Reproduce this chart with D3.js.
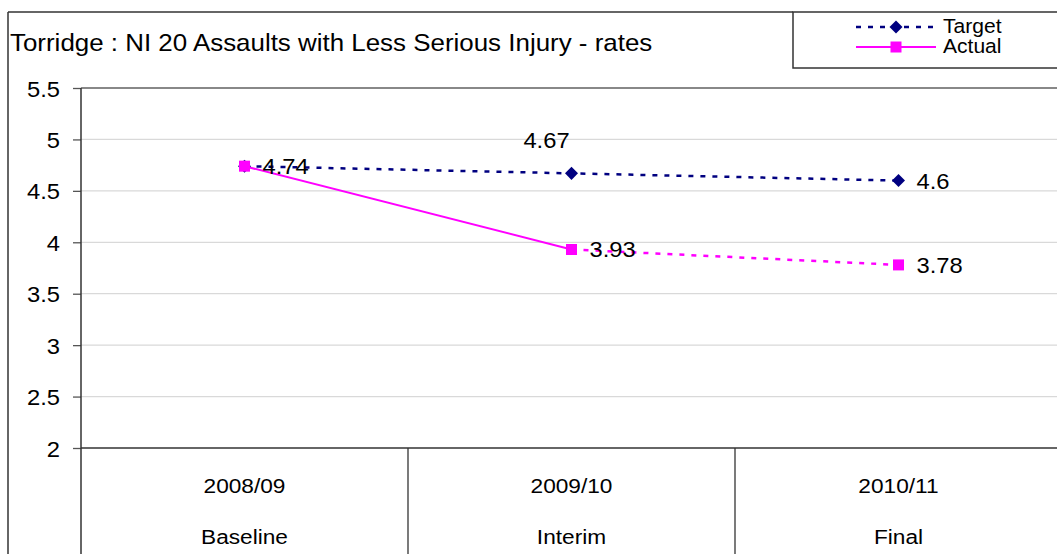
<!DOCTYPE html>
<html><head><meta charset="utf-8">
<script src="https://cdn.jsdelivr.net/npm/d3@7"></script>
<style>body{margin:0;background:#fff}svg{display:block}text{font-family:"Liberation Sans",Arial,sans-serif;fill:#000}</style>
</head><body>
<script>
const categories = ["2008/09","2009/10","2010/11"];
const stages = ["Baseline","Interim","Final"];
const target = [4.74, 4.67, 4.6];
const actual = [4.74, 3.93, 3.78];
const yTicks = [2, 2.5, 3, 3.5, 4, 4.5, 5, 5.5];
const title = "Torridge : NI 20 Assaults with Less Serious Injury - rates";

const W = 1057, H = 554, SX = 1.08;
const svg = d3.select("body").append("svg").attr("width", W).attr("height", H);

const y = d3.scaleLinear().domain([2, 5.5]).range([448, 88]);
const x = d3.scaleBand().domain(categories).range([81, 1062]).padding(0);
const cx = d => x(d) + x.bandwidth() / 2;

function stext(g, tx, ty, str, size, anchor) {
  return g.append("text")
    .attr("transform", `translate(${tx},${ty}) scale(${SX},1)`)
    .attr("text-anchor", anchor || "start")
    .attr("font-size", size)
    .text(str);
}

// Frame
svg.append("line").attr("x1", 8).attr("x2", 793).attr("y1", 12).attr("y2", 12).attr("stroke", "#333").attr("stroke-width", 1.5);
svg.append("line").attr("x1", 8).attr("x2", 8).attr("y1", 12).attr("y2", H).attr("stroke", "#333").attr("stroke-width", 1.5);
stext(svg, 10, 51, title, 24);

// Gridlines
svg.append("g").selectAll("line").data(yTicks.filter(t => t > 2 && t < 5.5)).join("line")
  .attr("x1", 81).attr("x2", W).attr("y1", d => y(d)).attr("y2", d => y(d))
  .attr("stroke", "#d9d9d9").attr("stroke-width", 1.3);
svg.append("line").attr("x1", 81).attr("x2", W).attr("y1", y(5.5)).attr("y2", y(5.5)).attr("stroke", "#888").attr("stroke-width", 2);
svg.append("line").attr("x1", 81).attr("x2", W).attr("y1", y(2)).attr("y2", y(2)).attr("stroke", "#333").attr("stroke-width", 1.5);

// Y axis
const yAxis = d3.axisLeft(y).tickValues(yTicks).tickSize(8).tickPadding(0).tickFormat(d => String(d));
const ya = svg.append("g").attr("transform", "translate(81,0)").call(yAxis);
ya.select(".domain").remove();
ya.selectAll(".tick line").attr("stroke", "#555").attr("stroke-width", 1.3);
ya.selectAll(".tick text").remove();
ya.selectAll(".tick").each(function(d) {
  stext(d3.select(this), -21, 8, String(d), 22, "end");
});
svg.append("line").attr("x1", 81).attr("x2", 81).attr("y1", 88).attr("y2", H).attr("stroke", "#333").attr("stroke-width", 1.5);

// Category dividers and labels
svg.append("g").selectAll("line").data(categories.slice(1)).join("line")
  .attr("x1", d => x(d)).attr("x2", d => x(d)).attr("y1", 448).attr("y2", H)
  .attr("stroke", "#333").attr("stroke-width", 1.3);
categories.forEach((c, i) => {
  stext(svg, cx(c), 493, c, 21, "middle");
  stext(svg, cx(c), 544, stages[i], 21, "middle");
});

// Lines
const line = d3.line().x(d => cx(d.c)).y(d => y(d.v));
const tPts = categories.map((c, i) => ({c, v: target[i]}));
const aPts = categories.map((c, i) => ({c, v: actual[i]}));
svg.append("path").attr("d", line(tPts)).attr("fill", "none").attr("stroke", "#000080").attr("stroke-width", 2.5).attr("stroke-dasharray", "5,7");
svg.append("path").attr("d", line(aPts.slice(0, 2))).attr("fill", "none").attr("stroke", "#FF00FF").attr("stroke-width", 2);
svg.append("path").attr("d", line(aPts.slice(1))).attr("fill", "none").attr("stroke", "#FF00FF").attr("stroke-width", 2.5).attr("stroke-dasharray", "5,7");

const diamondPath = d3.symbol().type(d3.symbolSquare).size(85)();
const square = d3.symbol().type(d3.symbolSquare).size(121);
svg.append("g").selectAll("path").data(tPts).join("path")
  .attr("d", diamondPath)
  .attr("transform", d => `translate(${cx(d.c)},${y(d.v)}) rotate(45)`)
  .attr("fill", "#000080");
svg.append("g").selectAll("path").data(aPts).join("path")
  .attr("transform", d => `translate(${cx(d.c)},${y(d.v)})`)
  .attr("d", square()).attr("fill", "#FF00FF");

// Data labels
const fmt = v => String(v);
stext(svg, cx(categories[0]) + 18, y(target[0]) + 8, fmt(target[0]), 22);
stext(svg, cx(categories[1]) - 25, y(target[1]) - 25, fmt(target[1]), 22, "middle");
stext(svg, cx(categories[2]) + 18, y(target[2]) + 8, fmt(target[2]), 22);
stext(svg, cx(categories[1]) + 18, y(actual[1]) + 8, fmt(actual[1]), 22);
stext(svg, cx(categories[2]) + 18, y(actual[2]) + 8, fmt(actual[2]), 22);

// Legend
svg.append("rect").attr("x", 793).attr("y", 12).attr("width", 300).attr("height", 56).attr("fill", "#fff").attr("stroke", "#333").attr("stroke-width", 1.5);
const lg = [{name: "Target", col: "#000080", dash: "5,7", y: 27, sym: "d"}, {name: "Actual", col: "#FF00FF", dash: null, y: 47, sym: "s"}];
lg.forEach(l => {
  svg.append("line").attr("x1", 856).attr("x2", 936).attr("y1", l.y).attr("y2", l.y)
    .attr("stroke", l.col).attr("stroke-width", l.dash ? 2.5 : 2).attr("stroke-dasharray", l.dash);
  svg.append("path").attr("d", l.sym === "d" ? diamondPath : square())
    .attr("transform", `translate(896,${l.y}) rotate(${l.sym === "d" ? 45 : 0})`).attr("fill", l.col);
  stext(svg, 943, l.y + 6, l.name, 19.5);
});
</script>
</body></html>
